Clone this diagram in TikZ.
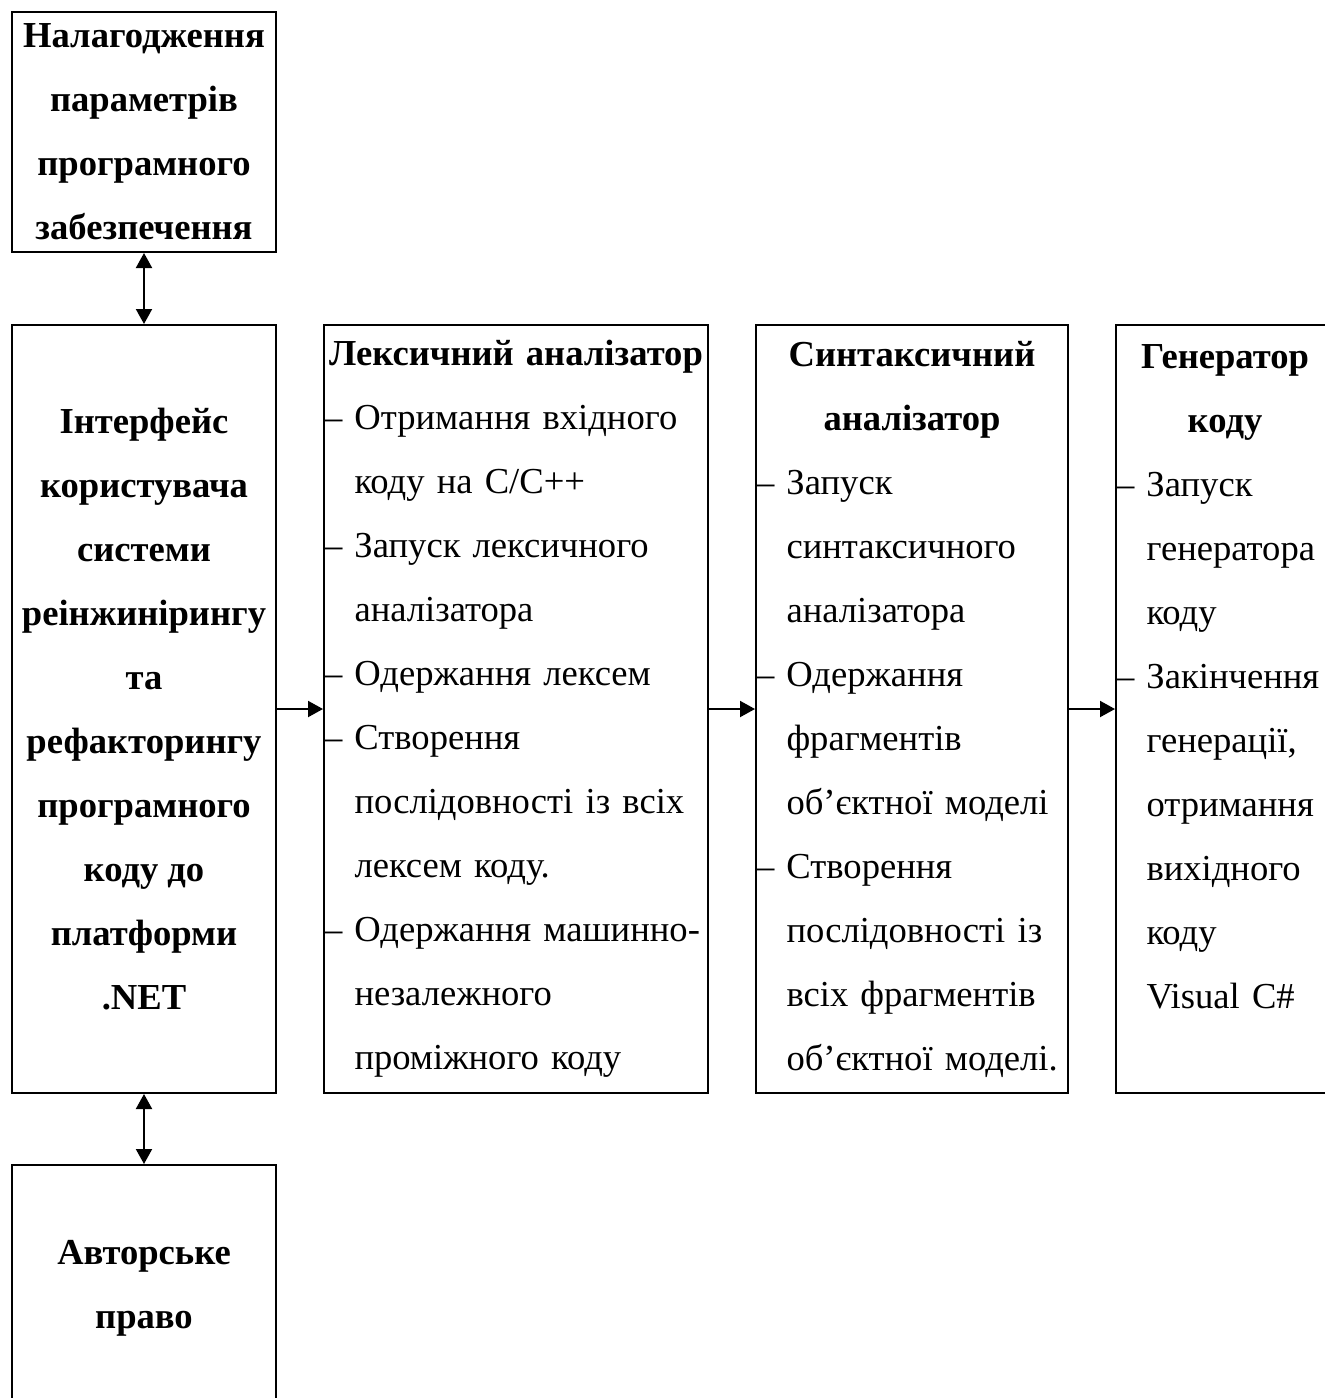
\documentclass[tikz,border=0pt]{standalone}
\usepackage{fontspec}
\setmainfont{Liberation Serif}
\usepackage{tikz}
\usetikzlibrary{arrows.meta}
\usetikzlibrary{positioning}
\tikzset{blok/.style={rectangle,draw=black,line width=1pt,inner sep=0pt,font=\fontsize{18.3}{32}\selectfont}}
\tikzset{cblok/.style={blok,align=center,font=\fontsize{18.3}{32}\selectfont\bfseries}}
\tikzset{lblok/.style={blok,align=left,minimum height=384pt}}
\tikzset{strl/.style={-{Triangle[length=7.5pt,width=8pt]},line width=1pt}}
\tikzset{dstrl/.style={{Triangle[length=7.5pt,width=8pt]}-{Triangle[length=7.5pt,width=8pt]},line width=1pt}}
\newcommand{\punkt}[1]{\mbox{–~#1}}
\newcommand{\dali}[1]{\mbox{\phantom{–~}#1}}
\newcommand{\zagl}[1]{\makebox[\linewidth][c]{\bfseries #1}}

\begin{document}
\begin{tikzpicture}[x=0.5pt,y=-0.5pt,node distance=23pt]
\useasboundingbox (0,0) rectangle (1325,1398);
\clip (0,0) rectangle (1325,1398);

\node[cblok, minimum width=132pt, minimum height=384pt] (inter) at (144,709)
  {Інтерфейс\\користувача\\системи\\реінжинірингу\\та\\рефакторингу\\програмного\\коду до\\платформи\\.NET};
\node[cblok, minimum width=132pt, minimum height=120pt, above=35.5pt of inter] (nalag)
  {Налагодження\\параметрів\\програмного\\забезпечення};
\node[cblok, minimum width=132pt, minimum height=123pt, below=35pt of inter] (avtor)
  {Авторське\\право};

\node[lblok, text width=192pt, right=of inter] (leks)
  {\zagl{Лексичний аналізатор}\\
   \punkt{Отримання вхідного}\\
   \dali{коду на C/C++}\\
   \punkt{Запуск лексичного}\\
   \dali{аналізатора}\\
   \punkt{Одержання лексем}\\
   \punkt{Створення}\\
   \dali{послідовності із всіх}\\
   \dali{лексем коду.}\\
   \punkt{Одержання машинно-}\\
   \dali{незалежного}\\
   \dali{проміжного коду}};
\node[lblok, text width=156pt, right=of leks] (synt)
  {\zagl{Синтаксичний}\\
   \zagl{аналізатор}\\
   \punkt{Запуск}\\
   \dali{синтаксичного}\\
   \dali{аналізатора}\\
   \punkt{Одержання}\\
   \dali{фрагментів}\\
   \dali{об’єктної моделі}\\
   \punkt{Створення}\\
   \dali{послідовності із}\\
   \dali{всіх фрагментів}\\
   \dali{об’єктної моделі.}};
\node[lblok, text width=109pt, right=of synt] (gener)
  {\zagl{Генератор}\\
   \zagl{коду}\\
   \punkt{Запуск}\\
   \dali{генератора}\\
   \dali{коду}\\
   \punkt{Закінчення}\\
   \dali{генерації,}\\
   \dali{отримання}\\
   \dali{вихідного}\\
   \dali{коду}\\
   \dali{Visual C\#}\\
   \mbox{}};

\draw[dstrl] (nalag) -- (inter);
\draw[dstrl] (inter) -- (avtor);
\draw[strl] (inter) -- (leks);
\draw[strl] (leks) -- (synt);
\draw[strl] (synt) -- (gener);
\end{tikzpicture}
\end{document}
